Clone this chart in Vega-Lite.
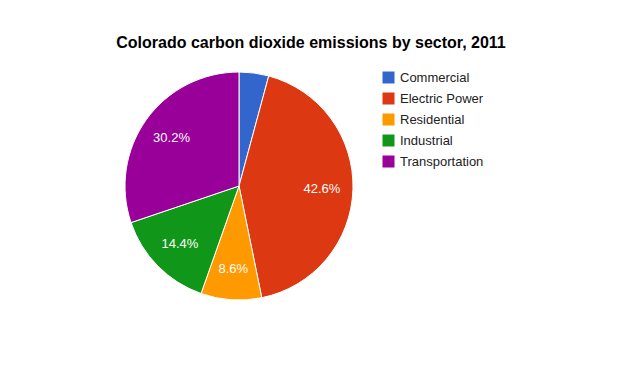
{
  "$schema": "https://vega.github.io/schema/vega-lite/v6.json",
  "width": 478,
  "height": 252,
  "autosize": {"type": "none"},
  "padding": {"left": 0, "top": 60, "right": 149, "bottom": 59},
  "background": "white",
  "config": {"view": {"stroke": null}, "font": "Liberation Sans"},
  "title": {
    "text": "Colorado carbon dioxide emissions by sector, 2011",
    "font": "Liberation Sans",
    "fontSize": 16,
    "fontWeight": "bold",
    "color": "#000000",
    "anchor": "middle",
    "dx": 72,
    "offset": 9
  },
  "data": {
    "values": [
      {"sector": "Commercial", "share": 0.042, "order": 1},
      {"sector": "Electric Power", "share": 0.426, "order": 2},
      {"sector": "Residential", "share": 0.086, "order": 3},
      {"sector": "Industrial", "share": 0.144, "order": 4},
      {"sector": "Transportation", "share": 0.302, "order": 5}
    ]
  },
  "encoding": {
    "theta": {"field": "share", "type": "quantitative", "stack": true},
    "order": {"field": "order", "type": "quantitative"}
  },
  "layer": [
    {
      "mark": {"type": "arc", "outerRadius": 114, "stroke": "white", "strokeWidth": 1},
      "encoding": {
        "color": {
          "field": "sector",
          "type": "nominal",
          "sort": ["Commercial", "Electric Power", "Residential", "Industrial", "Transportation"],
          "scale": {
            "domain": ["Commercial", "Electric Power", "Residential", "Industrial", "Transportation"],
            "range": ["#3366cc", "#dc3912", "#ff9900", "#109618", "#990099"]
          },
          "legend": {
            "title": null,
            "orient": "none",
            "legendX": 382,
            "legendY": 11,
            "symbolType": "square",
            "symbolSize": 144,
            "symbolStrokeWidth": 0,
            "labelFont": "Liberation Sans",
            "labelFontSize": 13,
            "labelColor": "#222222",
            "labelOffset": 5,
            "rowPadding": 7,
            "padding": 0
          }
        }
      }
    },
    {
      "mark": {"type": "text", "radius": 83, "fill": "white", "fontSize": 13, "font": "Liberation Sans"},
      "encoding": {
        "text": {
          "condition": {"test": "datum.share < 0.05", "value": ""},
          "field": "share",
          "type": "quantitative",
          "format": ".1%"
        }
      }
    }
  ]
}
